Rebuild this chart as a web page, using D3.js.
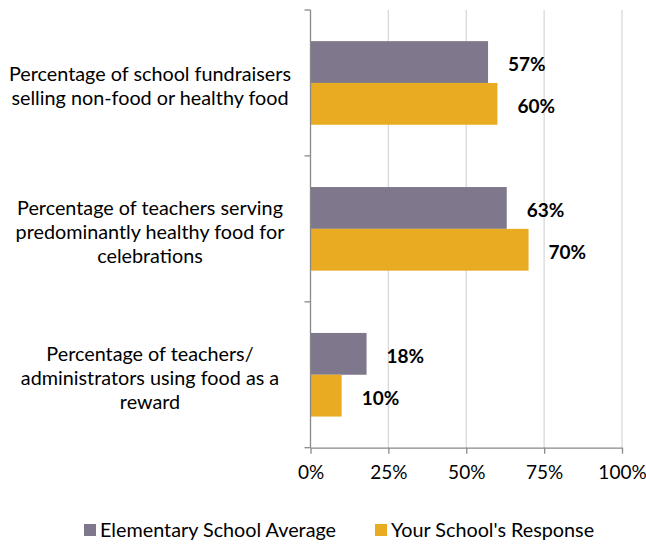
<!DOCTYPE html>
<html>
<head>
<meta charset="utf-8">
<script src="https://cdn.jsdelivr.net/npm/d3@7"></script>
<style>
  html, body { margin: 0; padding: 0; background: #fff; }
  svg { display: block; }
  text { font-family: Lato, "Open Sans", sans-serif; fill: #000; }
</style>
</head>
<body>
<svg id="chart" width="646" height="544"></svg>
<script>
// Survey items (each label split into its display lines)
const categories = [
  ["Percentage of school fundraisers", "selling non-food or healthy food"],
  ["Percentage of teachers serving", "predominantly healthy food for", "celebrations"],
  ["Percentage of teachers/", "administrators using food as a", "reward"]
];
const seriesNames = ["Elementary School Average", "Your School's Response"];
const elementaryAverage = [57, 63, 18];
const schoolResponse = [60, 70, 10];
const xTicks = [0, 25, 50, 75, 100];
const colors = ["#7f778b", "#e9ab22"];

const svg = d3.select("#chart");
const plot = { left: 310.5, right: 622, top: 10, bottom: 447.7 };

const x = d3.scaleLinear().domain([0, 100]).range([plot.left, plot.right]);
const y0 = d3.scaleBand().domain(d3.range(categories.length))
  .range([plot.top, plot.bottom]).padding(0);
const y1 = d3.scaleBand().domain(d3.range(seriesNames.length))
  .range([0, y0.bandwidth()]).paddingInner(0).paddingOuter(0.745);

// Vertical gridlines
svg.append("g").selectAll("line").data(xTicks.slice(1)).join("line")
  .attr("x1", d => x(d)).attr("x2", d => x(d))
  .attr("y1", plot.top).attr("y2", plot.bottom)
  .attr("stroke", "#d9d9d9").attr("stroke-width", 1.3);

// Bars
const rows = categories.map((c, i) => [elementaryAverage[i], schoolResponse[i]]);
const groups = svg.append("g").selectAll("g").data(rows).join("g")
  .attr("transform", (d, i) => `translate(0,${y0(i)})`);
groups.selectAll("rect").data(d => d).join("rect")
  .attr("x", x(0))
  .attr("y", (d, j) => y1(j))
  .attr("width", d => x(d) - x(0))
  .attr("height", y1.bandwidth())
  .attr("fill", (d, j) => colors[j]);

// Value labels
groups.selectAll("text").data(d => d).join("text")
  .attr("x", d => x(d) + 20)
  .attr("y", (d, j) => y1(j) + y1.bandwidth() / 2 + 1.5)
  .attr("dominant-baseline", "central")
  .attr("font-weight", "bold")
  .attr("font-size", 19)
  .text(d => d + "%");

// Category axis (left)
const yAxis = svg.append("g").attr("transform", `translate(${plot.left},0)`);
yAxis.append("line").attr("x1", 0).attr("x2", 0)
  .attr("y1", plot.top).attr("y2", plot.bottom)
  .attr("stroke", "#898989").attr("stroke-width", 1.3);
const boundaries = d3.range(categories.length + 1).map(i => plot.top + i * y0.step());
yAxis.selectAll("line.tick").data(boundaries).join("line").attr("class", "tick")
  .attr("x1", -6).attr("x2", 0).attr("y1", d => d).attr("y2", d => d)
  .attr("stroke", "#898989").attr("stroke-width", 1.3);

// Category labels
svg.append("g").selectAll("text").data(categories).join("text")
  .attr("text-anchor", "middle")
  .attr("font-size", 19.8)
  .each(function(lines, i) {
    const lh = 24;
    const cy = y0(i) + y0.bandwidth() / 2 + 2;
    const start = cy - (lines.length - 1) * lh / 2;
    d3.select(this).selectAll("tspan").data(lines).join("tspan")
      .attr("x", 150)
      .attr("y", (d, k) => start + k * lh)
      .attr("dominant-baseline", "central")
      .text(d => d);
  });

// Value axis (bottom)
const xAxis = d3.axisBottom(x).tickValues(xTicks).tickFormat(d => d + "%")
  .tickSizeInner(6).tickSizeOuter(0).tickPadding(12);
const gx = svg.append("g").attr("transform", `translate(0,${plot.bottom})`).call(xAxis);
gx.select(".domain").attr("stroke", "#898989").attr("stroke-width", 1.3);
gx.selectAll(".tick line").attr("stroke", "#898989").attr("stroke-width", 1.3);
gx.selectAll(".tick text").attr("font-size", 19).attr("font-family", "Lato, sans-serif").attr("fill", "#000");

// Legend
const legendX = [84, 375];
const legend = svg.append("g").selectAll("g").data(seriesNames).join("g")
  .attr("transform", (d, i) => `translate(${legendX[i]},524)`);
legend.append("rect").attr("width", 12).attr("height", 12)
  .attr("fill", (d, i) => colors[i]);
legend.append("text").attr("x", 16).attr("y", 13)
  .attr("font-size", 19.8).text(d => d);
</script>
</body>
</html>
